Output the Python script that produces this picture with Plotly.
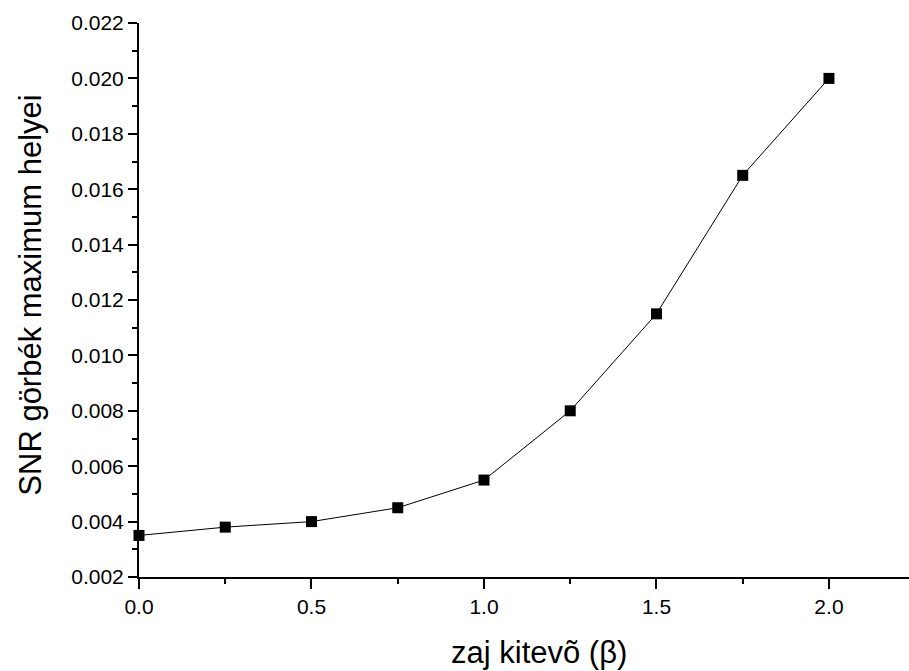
import plotly.graph_objects as go

# noise exponent (beta) and position of the SNR-curve maxima
beta = [0.0, 0.25, 0.5, 0.75, 1.0, 1.25, 1.5, 1.75, 2.0]
snr_max_pos = [0.0035, 0.0038, 0.0040, 0.0045, 0.0055, 0.0080, 0.0115, 0.0165, 0.0200]

x_title = "zaj kitevõ (β)"
y_title = "SNR görbék maximum helyei"

FONT = "Liberation Sans, Arial, sans-serif"

fig = go.Figure()
fig.add_trace(go.Scatter(
    x=beta, y=snr_max_pos,
    mode="lines+markers",
    line=dict(color="black", width=1),
    marker=dict(symbol="square", size=11, color="black"),
    cliponaxis=False,
    showlegend=False,
))

axis_common = dict(
    showline=True, linecolor="black", linewidth=2,
    showgrid=False, zeroline=False,
    ticks="outside", tickcolor="black", tickwidth=2,
    tickfont=dict(family=FONT, size=21, color="black"),
    mirror=False,
)

fig.update_xaxes(
    **axis_common,
    range=[0, 2.232], dtick=0.5, tick0=0, tickformat=".1f", ticklen=10,
    minor=dict(ticks="outside", dtick=0.25, tick0=0, ticklen=5,
               tickwidth=2, tickcolor="black", showgrid=False),
)
fig.update_yaxes(
    **axis_common,
    range=[0.002, 0.022], dtick=0.002, tick0=0.002, tickformat=".3f", ticklen=9,
    minor=dict(ticks="outside", dtick=0.001, tick0=0.002, ticklen=5,
               tickwidth=2, tickcolor="black", showgrid=False),
)

fig.add_annotation(
    text=x_title, xref="paper", yref="paper", x=0.519, y=-0.136,
    xanchor="center", yanchor="middle", showarrow=False,
    font=dict(family=FONT, size=31, color="black"),
)
fig.add_annotation(
    text=y_title, xref="paper", yref="paper", x=-0.142, y=0.509,
    xanchor="center", yanchor="middle", showarrow=False, textangle=-90,
    font=dict(family=FONT, size=31, color="black"),
)

fig.update_layout(
    width=909, height=671,
    margin=dict(l=139, r=0, t=23, b=94),
    paper_bgcolor="white", plot_bgcolor="white",
)

fig.write_html("out.html")
